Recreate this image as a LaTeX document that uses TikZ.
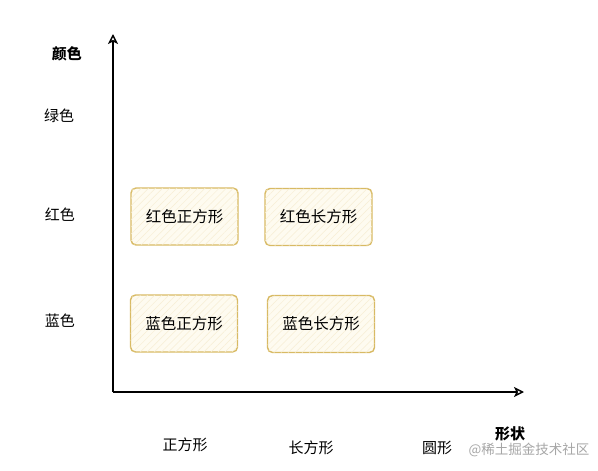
\documentclass[tikz,border=0pt]{standalone}
\usepackage{fontspec}
\setmainfont{Noto Sans CJK SC}
\usetikzlibrary{arrows.meta,patterns.meta}
\definecolor{cellgold}{RGB}{216,186,100}
\definecolor{cellfill}{RGB}{254,251,240}
\definecolor{hatch}{RGB}{247,238,212}

\begin{document}
\begin{tikzpicture}[
  x=1pt, y=-1pt,
  cell/.style={rectangle, rounded corners=5pt, draw=cellgold, line width=1.4pt, fill=cellfill,
    postaction={pattern={Lines[angle=45,distance=5pt,line width=0.5pt]}, pattern color=hatch},
    minimum width=107pt, minimum height=57pt, font=\fontsize{15.5}{18}\selectfont},
  axis/.style={-{Stealth[open, length=10pt, width=10pt, inset=2.5pt]}, line width=1.4pt},
  lbl/.style={font=\fontsize{15}{18}\selectfont},
  title/.style={font=\fontsize{15}{18}\selectfont\bfseries},
]
  \useasboundingbox (0,0) rectangle (598,471);

  \coordinate (origin) at (113,392);
  \coordinate (ytip) at (113,34);
  \coordinate (xtip) at (524,392);
  \draw[axis] (origin) -- (ytip);
  \draw[axis] (origin) -- (xtip);

  \node[cell] (redsq) at (184.5,216.5) {红色正方形};
  \node[cell] (redrect) at (318.5,217) {红色长方形};
  \node[cell] (bluesq) at (184,323.5) {蓝色正方形};
  \node[cell] (bluerect) at (321,324) {蓝色长方形};

  % colour axis
  \node[title] (ytitle) at (67,54) {颜色};
  \node[lbl] (green) at (59,116) {绿色};
  \node[lbl] (red) at (60,215) {红色};
  \node[lbl] (blue) at (60,321) {蓝色};

  % shape axis
  \node[title] (xtitle) at (510,434) {形状};
  \node[lbl] (square) at (185,445) {正方形};
  \node[lbl] (rect) at (311,448) {长方形};
  \node[lbl] (circle) at (437,448) {圆形};

  \node[font=\fontsize{13.5}{15}\selectfont, text=black!35] (mark) at (529,450) {@稀土掘金技术社区};
\end{tikzpicture}
\end{document}
